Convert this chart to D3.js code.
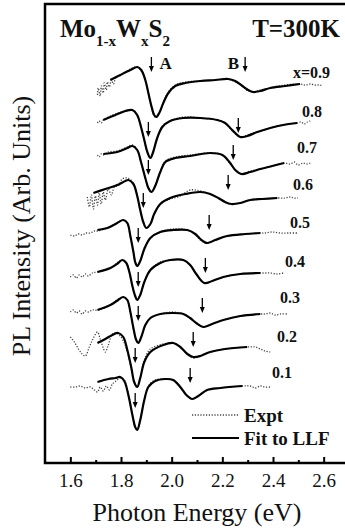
<!DOCTYPE html>
<html>
<head>
<meta charset="utf-8">
<script src="https://cdn.jsdelivr.net/npm/d3@7"></script>
<style>
  body { margin: 0; background: #fff; }
  svg { display: block; }
  text { font-family: "Liberation Serif", "DejaVu Serif", serif; fill: #111; }
</style>
</head>
<body>
<div id="chart"></div>
<script>
// compositions, top to bottom
const compositions = ["x=0.9", "0.8", "0.7", "0.6", "0.5", "0.4", "0.3", "0.2", "0.1"];

// fitted lineshapes (LLF) : [energy eV, intensity arb. units incl. offset]
const fit09 = [[1.758,38.3],[1.797,38.8],[1.837,39.3],[1.864,39.6],[1.880,39.3],[1.896,38.3],[1.908,37.0],[1.920,35.7],[1.931,34.8],[1.939,34.6],[1.951,35.0],[1.967,36.0],[1.987,37.0],[2.014,37.7],[2.054,38.0],[2.113,38.2],[2.172,38.3],[2.223,38.4],[2.251,38.2],[2.279,37.7],[2.302,37.3],[2.322,37.1],[2.350,37.2],[2.389,37.5],[2.448,37.7],[2.507,37.9]];
const fit08 = [[1.730,34.3],[1.778,34.8],[1.817,35.2],[1.845,35.3],[1.864,34.8],[1.880,33.5],[1.892,32.3],[1.904,31.1],[1.916,30.5],[1.927,31.1],[1.943,32.5],[1.963,33.6],[1.994,34.2],[2.046,34.5],[2.113,34.5],[2.180,34.3],[2.211,34.0],[2.239,33.3],[2.271,32.6],[2.298,32.7],[2.338,33.1],[2.389,33.5],[2.440,33.8],[2.495,34.0]];
const fit07 = [[1.730,30.9],[1.785,31.1],[1.825,31.5],[1.845,31.7],[1.864,31.3],[1.880,30.0],[1.896,28.5],[1.908,27.5],[1.920,27.1],[1.935,27.7],[1.955,29.1],[1.975,30.1],[2.014,30.5],[2.073,30.7],[2.152,31.0],[2.200,30.8],[2.231,30.0],[2.251,29.3],[2.275,28.9],[2.310,29.1],[2.350,29.4],[2.397,29.7],[2.444,30.0]];
const fit06 = [[1.691,27.0],[1.738,27.4],[1.785,27.8],[1.817,28.2],[1.829,28.3],[1.849,27.9],[1.864,26.7],[1.876,25.3],[1.888,24.1],[1.900,23.5],[1.916,23.9],[1.931,24.9],[1.955,25.9],[1.994,26.5],[2.054,26.9],[2.113,27.1],[2.152,26.9],[2.184,26.5],[2.211,26.1],[2.235,25.9],[2.271,26.0],[2.310,26.3],[2.357,26.4],[2.417,26.5]];
const fit05 = [[1.707,23.3],[1.746,23.5],[1.785,24.0],[1.809,24.3],[1.825,24.0],[1.837,22.7],[1.849,21.1],[1.856,20.1],[1.864,19.7],[1.876,20.2],[1.892,21.4],[1.916,22.5],[1.955,23.1],[2.006,23.3],[2.062,23.3],[2.093,22.9],[2.113,22.4],[2.140,22.0],[2.172,22.3],[2.219,22.7],[2.290,22.9],[2.350,23.0]];
const fit04 = [[1.707,19.1],[1.758,19.5],[1.789,20.0],[1.805,20.3],[1.821,20.0],[1.833,19.1],[1.845,17.7],[1.856,16.7],[1.864,16.3],[1.876,16.8],[1.892,18.1],[1.916,19.3],[1.955,20.0],[1.994,20.3],[2.046,20.3],[2.073,19.8],[2.097,18.9],[2.129,18.0],[2.160,18.2],[2.204,18.6],[2.271,18.9],[2.350,19.0]];
const fit03 = [[1.707,15.3],[1.758,15.8],[1.789,16.3],[1.809,16.6],[1.825,16.3],[1.837,15.1],[1.849,13.5],[1.860,12.3],[1.868,12.0],[1.880,12.6],[1.896,13.8],[1.916,14.5],[1.955,14.9],[2.006,15.0],[2.046,14.9],[2.073,14.5],[2.097,14.0],[2.125,13.6],[2.160,13.9],[2.204,14.3],[2.271,14.7],[2.350,14.9]];
const fit02 = [[1.707,12.0],[1.738,12.4],[1.766,12.8],[1.789,13.0],[1.809,12.6],[1.825,11.3],[1.841,9.5],[1.852,8.1],[1.864,7.6],[1.876,8.5],[1.892,10.1],[1.916,11.1],[1.967,11.8],[2.006,12.0],[2.034,11.6],[2.062,10.9],[2.085,10.6],[2.113,10.7],[2.152,11.1],[2.211,11.4],[2.298,11.6]];
const fit01 = [[1.707,8.1],[1.750,8.4],[1.778,8.5],[1.797,8.6],[1.813,8.2],[1.829,6.8],[1.845,4.8],[1.856,3.6],[1.864,3.3],[1.876,4.3],[1.892,6.3],[1.908,7.6],[1.935,8.2],[1.975,8.4],[2.006,8.3],[2.034,7.6],[2.058,6.8],[2.081,6.4],[2.105,6.7],[2.140,7.3],[2.192,7.5],[2.279,7.7]];

// measured spectra (Expt)
const exp09 = [[1.707,36.8],[1.710,37.5],[1.718,36.7],[1.722,37.7],[1.730,37.0],[1.734,38.0],[1.742,37.3],[1.746,38.1],[1.754,37.6],[1.762,38.3],[1.770,37.9],[1.781,38.6],[1.801,38.8],[1.837,39.4],[1.864,39.6],[1.880,39.2],[1.896,38.2],[1.908,37.0],[1.920,35.6],[1.931,34.7],[1.939,34.6],[1.951,35.1],[1.967,36.1],[1.987,37.1],[2.014,37.8],[2.054,38.1],[2.113,38.2],[2.172,38.3],[2.223,38.4],[2.251,38.1],[2.279,37.7],[2.302,37.2],[2.322,37.1],[2.350,37.3],[2.389,37.5],[2.448,37.8],[2.507,37.9],[2.527,37.8],[2.547,37.9],[2.566,37.8],[2.586,37.8],[2.598,37.7]];
const exp08 = [[1.707,34.0],[1.714,34.2],[1.722,34.0],[1.730,34.3],[1.750,34.6],[1.778,34.9],[1.817,35.2],[1.845,35.3],[1.864,34.7],[1.880,33.5],[1.892,32.2],[1.904,31.1],[1.916,30.5],[1.927,31.2],[1.943,32.5],[1.963,33.7],[1.994,34.2],[2.046,34.6],[2.113,34.5],[2.180,34.3],[2.211,34.0],[2.239,33.2],[2.271,32.6],[2.298,32.8],[2.338,33.1],[2.389,33.5],[2.440,33.8],[2.495,34.0],[2.511,34.1],[2.523,33.9],[2.535,34.1],[2.547,34.2]];
const exp07 = [[1.707,30.8],[1.714,30.6],[1.722,30.9],[1.730,30.8],[1.750,31.1],[1.785,31.2],[1.825,31.6],[1.845,31.8],[1.864,31.3],[1.880,30.0],[1.896,28.4],[1.908,27.5],[1.920,27.1],[1.935,27.8],[1.955,29.1],[1.975,30.2],[2.014,30.6],[2.073,30.8],[2.152,31.0],[2.200,30.8],[2.231,29.9],[2.251,29.3],[2.275,28.9],[2.310,29.2],[2.350,29.4],[2.397,29.7],[2.444,30.0],[2.468,29.9],[2.484,30.1],[2.499,29.8],[2.519,30.0],[2.535,29.9],[2.547,30.0]];
const exp06 = [[1.667,26.6],[1.675,25.6],[1.683,26.8],[1.691,25.4],[1.699,26.7],[1.707,25.8],[1.714,27.0],[1.722,25.9],[1.730,27.1],[1.738,26.3],[1.750,27.4],[1.762,26.8],[1.774,27.6],[1.789,27.7],[1.805,28.4],[1.825,28.5],[1.849,28.0],[1.864,26.7],[1.876,25.2],[1.888,24.0],[1.900,23.5],[1.916,23.9],[1.931,25.0],[1.955,25.9],[1.994,26.4],[2.034,26.7],[2.073,27.3],[2.113,27.2],[2.152,26.9],[2.184,26.5],[2.211,26.1],[2.235,25.9],[2.271,26.0],[2.310,26.3],[2.357,26.4],[2.417,26.5],[2.448,26.5],[2.468,26.6],[2.483,26.5],[2.499,26.5]];
const exp05 = [[1.600,22.8],[1.616,22.7],[1.632,22.9],[1.647,22.8],[1.663,23.0],[1.679,23.0],[1.695,23.2],[1.707,23.2],[1.746,23.5],[1.785,24.0],[1.809,24.3],[1.825,24.0],[1.837,22.6],[1.849,21.1],[1.856,20.1],[1.864,19.7],[1.876,20.2],[1.892,21.5],[1.916,22.5],[1.955,23.1],[2.006,23.4],[2.062,23.3],[2.093,22.9],[2.113,22.3],[2.140,22.0],[2.172,22.3],[2.219,22.7],[2.290,22.9],[2.350,23.0],[2.369,23.0],[2.397,23.1],[2.428,23.0],[2.460,23.0],[2.495,23.0]];
const exp04 = [[1.600,18.6],[1.612,18.8],[1.624,18.5],[1.635,18.8],[1.647,18.6],[1.659,18.9],[1.671,18.7],[1.687,19.0],[1.707,19.1],[1.758,19.5],[1.789,20.1],[1.805,20.3],[1.821,20.0],[1.833,19.1],[1.845,17.6],[1.856,16.7],[1.864,16.3],[1.876,16.8],[1.892,18.1],[1.916,19.3],[1.955,20.1],[1.994,20.3],[2.046,20.3],[2.073,19.8],[2.097,18.9],[2.129,18.0],[2.160,18.2],[2.204,18.6],[2.271,18.9],[2.350,19.0],[2.369,19.0],[2.389,19.0],[2.417,18.9],[2.440,19.0]];
const exp03 = [[1.600,15.1],[1.612,15.3],[1.624,15.0],[1.635,15.2],[1.647,14.9],[1.659,15.2],[1.671,15.1],[1.687,15.3],[1.707,15.3],[1.758,15.8],[1.789,16.4],[1.809,16.6],[1.825,16.3],[1.837,15.1],[1.849,13.4],[1.860,12.3],[1.868,12.0],[1.880,12.6],[1.896,13.8],[1.916,14.5],[1.955,14.9],[2.006,15.1],[2.046,14.9],[2.073,14.5],[2.097,14.0],[2.125,13.6],[2.160,13.9],[2.204,14.3],[2.271,14.7],[2.350,14.9],[2.369,14.9],[2.389,15.0],[2.409,14.8],[2.428,14.9],[2.456,14.9]];
const exp02 = [[1.600,12.6],[1.616,12.1],[1.632,11.4],[1.647,10.9],[1.659,10.7],[1.675,11.6],[1.691,12.5],[1.707,13.1],[1.718,12.4],[1.730,11.5],[1.738,11.1],[1.750,11.8],[1.766,12.9],[1.781,13.0],[1.797,12.7],[1.813,12.0],[1.825,11.1],[1.841,9.4],[1.852,8.1],[1.864,7.6],[1.876,8.5],[1.892,10.3],[1.916,11.4],[1.967,11.9],[2.006,12.0],[2.034,11.6],[2.062,10.9],[2.085,10.5],[2.113,10.7],[2.152,11.1],[2.211,11.4],[2.298,11.6],[2.330,11.6],[2.350,11.4],[2.369,11.2],[2.389,11.1]];
const exp01 = [[1.600,7.6],[1.620,7.6],[1.639,7.7],[1.659,7.5],[1.679,7.6],[1.695,7.3],[1.707,7.1],[1.718,7.6],[1.730,7.2],[1.742,7.7],[1.754,7.3],[1.766,7.9],[1.781,8.2],[1.797,8.5],[1.813,8.3],[1.829,6.9],[1.845,4.8],[1.856,3.6],[1.864,3.3],[1.876,4.3],[1.892,6.3],[1.908,7.7],[1.935,8.3],[1.975,8.4],[2.006,8.3],[2.034,7.6],[2.058,6.8],[2.081,6.4],[2.105,6.7],[2.140,7.3],[2.192,7.5],[2.279,7.7],[2.310,7.7],[2.330,7.5],[2.350,7.7],[2.369,7.6],[2.389,7.6]];

const fits = [fit09, fit08, fit07, fit06, fit05, fit04, fit03, fit02, fit01];
const expts = [exp09, exp08, exp07, exp06, exp05, exp04, exp03, exp02, exp01];

// transition energies marked by arrows (A and B excitons) and arrow tip height
const arrowA_E = [1.920, 1.908, 1.908, 1.888, 1.868, 1.868, 1.868, 1.856, 1.856];
const arrowA_I = [39.1, 32.6, 28.8, 25.5, 22.0, 17.6, 14.2, 10.0, 5.5];
const arrowB_E = [2.290, 2.263, 2.243, 2.223, 2.148, 2.133, 2.121, 2.085, 2.073];
const arrowB_I = [39.1, 33.0, 30.3, 27.3, 23.3, 19.0, 15.0, 11.6, 8.0];

const majorTicks = [1.6, 1.8, 2.0, 2.2, 2.4, 2.6];
const minorTicks = [1.7, 1.9, 2.1, 2.3, 2.5];

// layout of curve labels (px)
const labelPos = [[293,78],[302,117],[297,153],[293,190],[290,228],[285,267],[280,303],[277,342],[272,378]];

const W = 345, H = 531;
const plotLeft = 45, plotTop = 4, plotBottom = 463;

const svg = d3.select('#chart').append('svg')
  .attr('width', W)
  .attr('height', H);

const x = d3.scaleLinear().domain([1.5, 2.7]).range([plotLeft, 349]);
const y = d3.scaleLinear().domain([0, 46]).range([plotBottom, 3]);

const line = d3.line()
  .x(d => x(d[0]))
  .y(d => y(d[1]))
  .curve(d3.curveCatmullRom.alpha(0.5));

// frame (right side runs off the picture)
svg.append('rect')
  .attr('x', plotLeft).attr('y', plotTop)
  .attr('width', 340).attr('height', plotBottom - plotTop)
  .attr('fill', 'none')
  .attr('stroke', '#000')
  .attr('stroke-width', 2.5);

// x axis
const xAxis = svg.append('g')
  .attr('transform', 'translate(0,' + plotBottom + ')')
  .call(d3.axisBottom(x).tickValues(majorTicks).tickFormat(d3.format('.1f'))
    .tickSize(-6).tickSizeOuter(0).tickPadding(11));
xAxis.select('.domain').remove();
xAxis.selectAll('line').attr('stroke', '#000').attr('stroke-width', 2);
xAxis.selectAll('text')
  .style('font-family', '"Liberation Serif", serif')
  .style('font-size', '19px')
  .attr('fill', '#222');

svg.append('g')
  .attr('transform', 'translate(0,' + plotBottom + ')')
  .call(d3.axisBottom(x).tickValues(minorTicks).tickFormat('').tickSize(-3).tickSizeOuter(0))
  .call(g => g.select('.domain').remove())
  .selectAll('line').attr('stroke', '#000').attr('stroke-width', 2);

// axis titles
svg.append('text')
  .attr('x', 197).attr('y', 521)
  .attr('text-anchor', 'middle')
  .style('font-size', '26px')
  .text('Photon Energy (eV)');

svg.append('text')
  .attr('transform', 'translate(30,226) rotate(-90)')
  .attr('text-anchor', 'middle')
  .style('font-size', '26px')
  .text('PL Intensity (Arb. Units)');

// spectra
const curves = svg.append('g');
curves.selectAll('.expt')
  .data(expts)
  .enter()
  .append('path')
  .attr('class', 'expt')
  .attr('d', line)
  .attr('fill', 'none')
  .attr('stroke', '#444')
  .attr('stroke-width', 1.3)
  .attr('stroke-dasharray', '1.2,1.6');

curves.selectAll('.fit')
  .data(fits)
  .enter()
  .append('path')
  .attr('class', 'fit')
  .attr('d', line)
  .attr('fill', 'none')
  .attr('stroke', '#000')
  .attr('stroke-width', 2.2);

// arrows
function arrows(es, is) {
  const g = svg.append('g');
  const pts = es.map((e, i) => [x(e), y(is[i])]);
  g.selectAll('line')
    .data(pts)
    .enter()
    .append('line')
    .attr('x1', d => d[0]).attr('x2', d => d[0])
    .attr('y1', d => d[1] - 15).attr('y2', d => d[1] - 4)
    .attr('stroke', '#000')
    .attr('stroke-width', 1.3);
  g.selectAll('path')
    .data(pts)
    .enter()
    .append('path')
    .attr('d', d => 'M' + (d[0] - 2.5) + ',' + (d[1] - 6) + 'L' + (d[0] + 2.5) + ',' + (d[1] - 6) + 'L' + d[0] + ',' + d[1] + 'Z')
    .attr('fill', '#000');
}
arrows(arrowA_E, arrowA_I);
arrows(arrowB_E, arrowB_I);

svg.append('text')
  .attr('x', x(arrowA_E[0]) + 8).attr('y', y(arrowA_I[0]) - 3)
  .style('font-size', '17px').style('font-weight', 'bold')
  .text('A');
svg.append('text')
  .attr('x', x(arrowB_E[0]) - 6).attr('y', y(arrowB_I[0]) - 3)
  .attr('text-anchor', 'end')
  .style('font-size', '17px').style('font-weight', 'bold')
  .text('B');

// composition labels
svg.selectAll('.comp')
  .data(compositions)
  .enter()
  .append('text')
  .attr('class', 'comp')
  .attr('x', (d, i) => labelPos[i][0])
  .attr('y', (d, i) => labelPos[i][1])
  .style('font-size', '16px')
  .style('font-weight', 'bold')
  .text(d => d);

// title
const title = svg.append('text')
  .attr('x', 60).attr('y', 37)
  .style('font-weight', 'bold')
  .style('font-size', '25px');
title.append('tspan').text('Mo');
title.append('tspan').attr('dy', 9).style('font-size', '15px').text('1-x');
title.append('tspan').attr('dy', -9).text('W');
title.append('tspan').attr('dy', 9).style('font-size', '15px').text('x');
title.append('tspan').attr('dy', -9).text('S');
title.append('tspan').attr('dy', 9).style('font-size', '15px').text('2');

svg.append('text')
  .attr('x', 340).attr('y', 37)
  .attr('text-anchor', 'end')
  .style('font-weight', 'bold')
  .style('font-size', '25px')
  .text('T=300K');

// legend
const legend = svg.append('g');
const legendItems = ['Expt', 'Fit to LLF'];
legend.selectAll('line')
  .data(legendItems)
  .enter()
  .append('line')
  .attr('x1', 192).attr('x2', 239)
  .attr('y1', (d, i) => 415 + i * 23).attr('y2', (d, i) => 415 + i * 23)
  .attr('stroke', (d, i) => i ? '#000' : '#444')
  .attr('stroke-width', (d, i) => i ? 2.2 : 1.3)
  .attr('stroke-dasharray', (d, i) => i ? null : '1.2,1.6');
legend.selectAll('text')
  .data(legendItems)
  .enter()
  .append('text')
  .attr('x', 244)
  .attr('y', (d, i) => 422 + i * 23)
  .style('font-size', '19px')
  .style('font-weight', 'bold')
  .text(d => d);
</script>
</body>
</html>
